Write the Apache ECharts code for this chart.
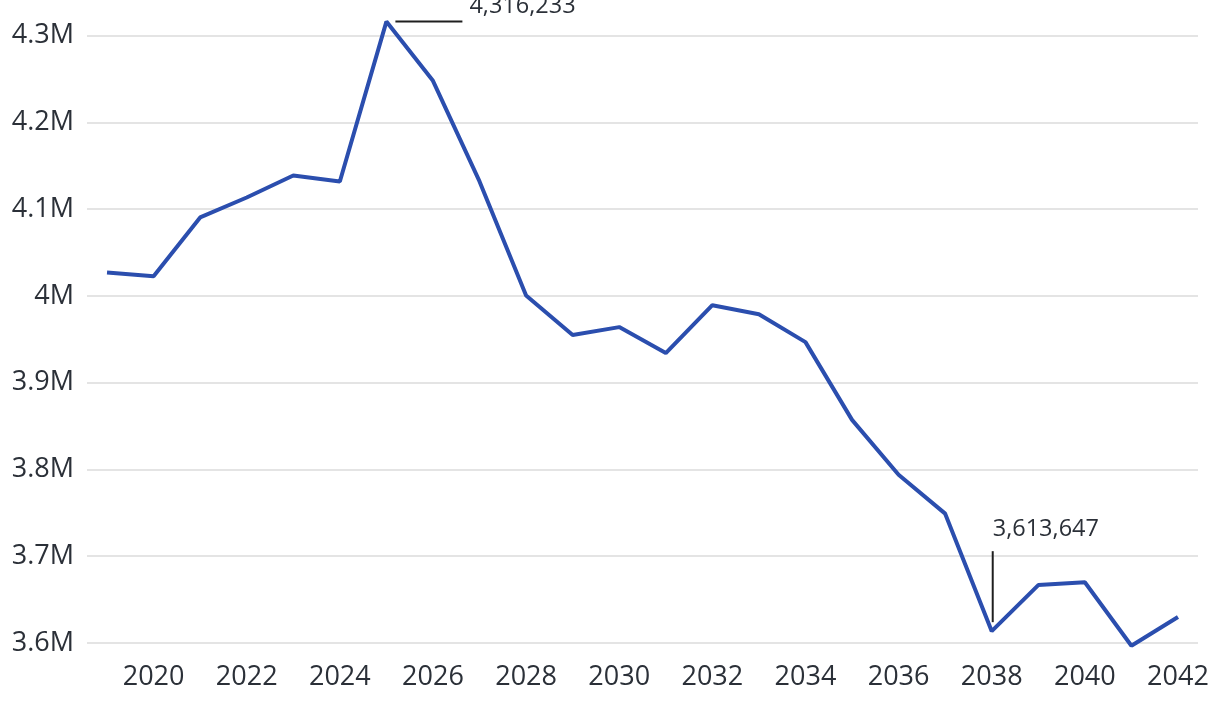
<!DOCTYPE html>
<html>
<head>
<meta charset="utf-8">
<script src="https://cdn.jsdelivr.net/npm/echarts@6/dist/echarts.min.js"></script>
<style>
html,body{margin:0;padding:0;background:#fff;}
#chart{width:1220px;height:706px;}
</style>
</head>
<body>
<div id="chart"></div>
<script>
const years = [2019,2020,2021,2022,2023,2024,2025,2026,2027,2028,2029,2030,2031,2032,2033,2034,2035,2036,2037,2038,2039,2040,2041,2042];
const values = [4027000,4022700,4090500,4113500,4138800,4131900,4316233,4248000,4132000,4000500,3954900,3964100,3934200,3989400,3979000,3946800,3857200,3793900,3749100,3613647,3666800,3670000,3596900,3629900];
const yTicks = [3600000,3700000,3800000,3900000,4000000,4100000,4200000,4300000];
const xTicks = [2020,2022,2024,2026,2028,2030,2032,2034,2036,2038,2040,2042];
const annotations = [
  {year: 2025, text: '4,316,233', dir: 'right'},
  {year: 2038, text: '3,613,647', dir: 'up'}
];

const FONT = '"Open Sans", "Noto Sans", sans-serif';
const TEXT = '#2b3038';
const chart = echarts.init(document.getElementById('chart'), null, {renderer: 'canvas'});
const data = years.map((y, i) => [y, values[i]]);

chart.setOption({
  animation: false,
  backgroundColor: '#ffffff',
  grid: {left: 87, right: 22, top: 21.6, bottom: 60.3, containLabel: false},
  xAxis: {
    type: 'value',
    min: 2018.57,
    max: 2042.43,
    axisLine: {show: false},
    axisTick: {show: false, customValues: xTicks},
    splitLine: {show: false},
    axisLabel: {
      customValues: xTicks,
      color: TEXT, fontFamily: FONT, fontSize: 27, margin: 18,
      formatter: v => String(v)
    }
  },
  yAxis: {
    type: 'value',
    min: 'dataMin',
    max: 'dataMax',
    axisLine: {show: false},
    axisTick: {show: false, customValues: yTicks},
    splitLine: {show: true, lineStyle: {color: '#e4e4e4', width: 2}},
    axisLabel: {
      customValues: yTicks,
      color: TEXT, fontFamily: FONT, fontSize: 27, margin: 13,
      formatter: v => parseFloat((v / 1e6).toFixed(1)) + 'M'
    }
  },
  series: [{
    type: 'line',
    data: data,
    symbol: 'none',
    lineStyle: {color: '#2b4eae', width: 4},
    z: 3
  }]
});

const graphics = [];
annotations.forEach(a => {
  const idx = years.indexOf(a.year);
  const p = chart.convertToPixel({gridIndex: 0}, [a.year, values[idx]]);
  if (a.dir === 'right') {
    graphics.push({type: 'line', shape: {x1: p[0] + 9, y1: p[1], x2: p[0] + 76, y2: p[1]}, style: {stroke: '#1f1f1f', lineWidth: 2}, z: 10});
    graphics.push({type: 'text', x: p[0] + 83, y: p[1] - 15, style: {text: a.text, fill: TEXT, font: '23.5px ' + FONT, textAlign: 'left', textVerticalAlign: 'middle'}, z: 10});
  } else {
    graphics.push({type: 'line', shape: {x1: p[0] + 1, y1: p[1] - 9, x2: p[0] + 1, y2: p[1] - 80}, style: {stroke: '#1f1f1f', lineWidth: 2}, z: 10});
    graphics.push({type: 'text', x: p[0] + 1, y: p[1] - 102, style: {text: a.text, fill: TEXT, font: '23.5px ' + FONT, textAlign: 'left', textVerticalAlign: 'middle'}, z: 10});
  }
});
chart.setOption({graphic: graphics});
</script>
</body>
</html>
